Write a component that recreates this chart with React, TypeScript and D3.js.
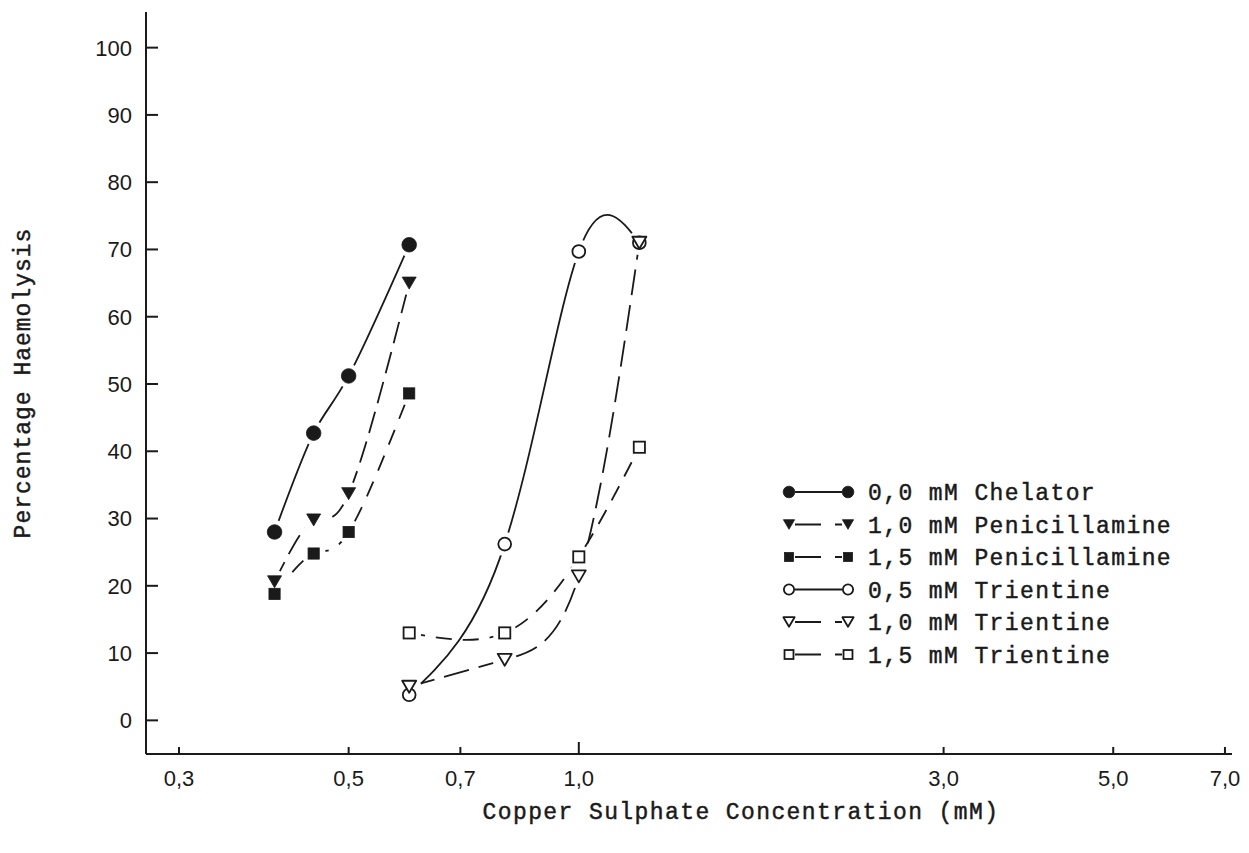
import React from "react";
import * as d3 from "d3";

// copper sulphate concentrations (mM)
const penicillamineConc = [0.4, 0.45, 0.5, 0.6];
const trientineConc = [0.6, 0.8, 1.0, 1.2];

// percentage haemolysis
const chelator00 = [28.0, 42.7, 51.2, 70.7];
const penicillamine10 = [20.6, 29.8, 33.7, 65.0];
const penicillamine15 = [18.8, 24.8, 28.0, 48.6];
const trientine05 = [3.8, 26.2, 69.7, 71.0];
const trientine10 = [5.0, 9.0, 21.4, 71.0];
const trientine15 = [13.0, 13.0, 24.3, 40.6];

const xTicks = [0.3, 0.5, 0.7, 1.0, 3.0, 5.0, 7.0];
const xTickLabels = ["0,3", "0,5", "0,7", "1,0", "3,0", "5,0", "7,0"];
const yTicks = [0, 10, 20, 30, 40, 50, 60, 70, 80, 90, 100];

type Marker = "fcircle" | "ftri" | "fsquare" | "ocircle" | "otri" | "osquare";

interface Series {
  label: string;
  xs: number[];
  ys: number[];
  marker: Marker;
  dash: string | null;
}

const series: Series[] = [
  { label: "0,0 mM Chelator", xs: penicillamineConc, ys: chelator00, marker: "fcircle", dash: null },
  { label: "1,0 mM Penicillamine", xs: penicillamineConc, ys: penicillamine10, marker: "ftri", dash: "22,9" },
  { label: "1,5 mM Penicillamine", xs: penicillamineConc, ys: penicillamine15, marker: "fsquare", dash: "16,12" },
  { label: "0,5 mM Trientine", xs: trientineConc, ys: trientine05, marker: "ocircle", dash: null },
  { label: "1,0 mM Trientine", xs: trientineConc, ys: trientine10, marker: "otri", dash: "26,10" },
  { label: "1,5 mM Trientine", xs: trientineConc, ys: trientine15, marker: "osquare", dash: "16,11" },
];

const INK = "#1a1a1a";
const MONO = "'Liberation Mono', 'DejaVu Sans Mono', monospace";
const SANS = "'Liberation Sans', Arial, sans-serif";

function MarkerShape({ kind, x, y, s = 1 }: { kind: Marker; x: number; y: number; s?: number }) {
  const filled = kind.startsWith("f");
  const fill = filled ? INK : "#fff";
  const sw = filled ? 0.8 : 1.8;
  if (kind.endsWith("circle")) {
    const r = (filled ? 7.3 : 6.4) * s;
    return <circle cx={x} cy={y} r={r} fill={fill} stroke={INK} strokeWidth={sw} />;
  }
  if (kind.endsWith("square")) {
    const h = 5.6 * s;
    return <rect x={x - h} y={y - h} width={2 * h} height={2 * h} fill={fill} stroke={INK} strokeWidth={sw} />;
  }
  const w = 7 * s;
  const h = 6 * s;
  const pts = `${x - w},${y - h} ${x + w},${y - h} ${x},${y + h}`;
  return <polygon points={pts} fill={fill} stroke={INK} strokeWidth={sw} strokeLinejoin="round" />;
}

export default function App() {
  const width = 1249;
  const height = 853;
  const left = 146;
  const right = 1232;
  const bottom = 754;
  const top = 12;

  const x = d3.scaleLog().domain([0.2716, 7.15]).range([left, right]);
  const y = d3.scaleLinear().domain([-5, 105]).range([bottom, 14]);

  const line = d3
    .line<[number, number]>()
    .x((d) => x(d[0]))
    .y((d) => y(d[1]))
    .curve(d3.curveNatural);

  const legendX0 = 789;
  const legendX1 = 848;
  const legendText = 868;
  const legendY = [492, 524.5, 557, 589.5, 622, 654.5];

  const monoStyle = { stroke: INK, strokeWidth: 0.45 };

  return (
    <svg width={width} height={height} style={{ display: "block", margin: -8, background: "#fff" }}>
      <rect width={width} height={height} fill="#fff" />

      {/* axes */}
      <line x1={left} x2={left} y1={top} y2={bottom} stroke={INK} strokeWidth={2} />
      <line x1={left} x2={right} y1={bottom} y2={bottom} stroke={INK} strokeWidth={2} />

      {yTicks.map((t) => (
        <g key={"y" + t}>
          <line x1={left} x2={left + 12} y1={y(t)} y2={y(t)} stroke={INK} strokeWidth={2} />
          <text x={left - 14} y={y(t)} dy="0.36em" textAnchor="end" fontFamily={SANS} fontSize={22} fill={INK}>
            {t}
          </text>
        </g>
      ))}

      {xTicks.map((t, i) => (
        <g key={"x" + t}>
          <line x1={x(t)} x2={x(t)} y1={bottom} y2={bottom - (t === 1 ? 12 : 7)} stroke={INK} strokeWidth={2} />
          <text x={x(t)} y={786} textAnchor="middle" fontFamily={SANS} fontSize={22} fill={INK}>
            {xTickLabels[i]}
          </text>
        </g>
      ))}

      {/* axis titles */}
      <text
        x={741}
        y={819}
        textAnchor="middle"
        fontFamily={MONO}
        fontSize={23}
        letterSpacing={1.4}
        fill={INK}
        {...monoStyle}
      >
        Copper Sulphate Concentration (mM)
      </text>
      <text
        transform={`translate(30,${(top + bottom) / 2}) rotate(-90)`}
        textAnchor="middle"
        fontFamily={MONO}
        fontSize={23}
        letterSpacing={1.0}
        fill={INK}
        {...monoStyle}
      >
        Percentage Haemolysis
      </text>

      {/* curves */}
      {series.map((s) => (
        <path
          key={"l" + s.label}
          d={line(s.xs.map((v, i) => [v, s.ys[i]] as [number, number])) ?? ""}
          fill="none"
          stroke={INK}
          strokeWidth={1.8}
          strokeDasharray={s.dash ?? undefined}
        />
      ))}

      {/* white gaps round the markers */}
      {series.map((s) =>
        s.xs.map((v, i) => (
          <circle key={"h" + s.label + i} cx={x(v)} cy={y(s.ys[i])} r={12} fill="#fff" />
        ))
      )}

      {series.map((s) =>
        s.xs.map((v, i) => <MarkerShape key={"m" + s.label + i} kind={s.marker} x={x(v)} y={y(s.ys[i])} />)
      )}

      {/* legend */}
      {series.map((s, i) => (
        <g key={"lg" + s.label}>
          <line
            x1={legendX0 + 6}
            x2={legendX1 - 6}
            y1={legendY[i]}
            y2={legendY[i]}
            stroke={INK}
            strokeWidth={1.8}
            strokeDasharray={s.dash ? "26,14" : undefined}
          />
          <MarkerShape kind={s.marker} x={legendX0} y={legendY[i]} s={0.8} />
          <MarkerShape kind={s.marker} x={legendX1} y={legendY[i]} s={0.8} />
          <text
            x={legendText}
            y={legendY[i]}
            dy="0.35em"
            fontFamily={MONO}
            fontSize={23}
            letterSpacing={1.4}
            fill={INK}
            {...monoStyle}
          >
            {s.label}
          </text>
        </g>
      ))}
    </svg>
  );
}
